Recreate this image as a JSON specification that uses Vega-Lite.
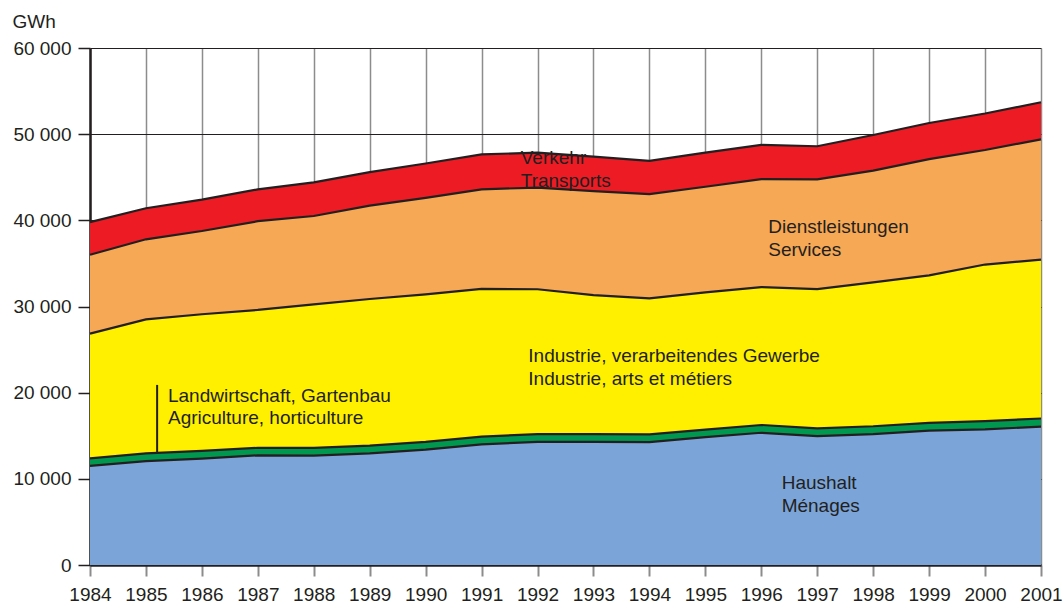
{
  "$schema": "https://vega.github.io/schema/vega-lite/v6.json",
  "width": 951,
  "height": 517,
  "autosize": {"type": "none"},
  "padding": {"left": 90, "top": 48, "right": 23, "bottom": 40},
  "background": "white",
  "config": {"view": {"stroke": null}, "font": "Liberation Sans"},
  "datasets": {
    "energy": [
      {"year": 1984, "sector": "Haushalt", "gwh": 11500}, {"year": 1984, "sector": "Landwirtschaft", "gwh": 880}, {"year": 1984, "sector": "Industrie", "gwh": 14470}, {"year": 1984, "sector": "Dienstleistungen", "gwh": 9150}, {"year": 1984, "sector": "Verkehr", "gwh": 3800},
      {"year": 1985, "sector": "Haushalt", "gwh": 12050}, {"year": 1985, "sector": "Landwirtschaft", "gwh": 910}, {"year": 1985, "sector": "Industrie", "gwh": 15540}, {"year": 1985, "sector": "Dienstleistungen", "gwh": 9300}, {"year": 1985, "sector": "Verkehr", "gwh": 3600},
      {"year": 1986, "sector": "Haushalt", "gwh": 12350}, {"year": 1986, "sector": "Landwirtschaft", "gwh": 900}, {"year": 1986, "sector": "Industrie", "gwh": 15850}, {"year": 1986, "sector": "Dienstleistungen", "gwh": 9660}, {"year": 1986, "sector": "Verkehr", "gwh": 3640},
      {"year": 1987, "sector": "Haushalt", "gwh": 12730}, {"year": 1987, "sector": "Landwirtschaft", "gwh": 870}, {"year": 1987, "sector": "Industrie", "gwh": 16000}, {"year": 1987, "sector": "Dienstleistungen", "gwh": 10300}, {"year": 1987, "sector": "Verkehr", "gwh": 3700},
      {"year": 1988, "sector": "Haushalt", "gwh": 12700}, {"year": 1988, "sector": "Landwirtschaft", "gwh": 900}, {"year": 1988, "sector": "Industrie", "gwh": 16650}, {"year": 1988, "sector": "Dienstleistungen", "gwh": 10250}, {"year": 1988, "sector": "Verkehr", "gwh": 3900},
      {"year": 1989, "sector": "Haushalt", "gwh": 12950}, {"year": 1989, "sector": "Landwirtschaft", "gwh": 900}, {"year": 1989, "sector": "Industrie", "gwh": 17020}, {"year": 1989, "sector": "Dienstleistungen", "gwh": 10830}, {"year": 1989, "sector": "Verkehr", "gwh": 3900},
      {"year": 1990, "sector": "Haushalt", "gwh": 13400}, {"year": 1990, "sector": "Landwirtschaft", "gwh": 900}, {"year": 1990, "sector": "Industrie", "gwh": 17100}, {"year": 1990, "sector": "Dienstleistungen", "gwh": 11200}, {"year": 1990, "sector": "Verkehr", "gwh": 4000},
      {"year": 1991, "sector": "Haushalt", "gwh": 14000}, {"year": 1991, "sector": "Landwirtschaft", "gwh": 900}, {"year": 1991, "sector": "Industrie", "gwh": 17150}, {"year": 1991, "sector": "Dienstleistungen", "gwh": 11550}, {"year": 1991, "sector": "Verkehr", "gwh": 4060},
      {"year": 1992, "sector": "Haushalt", "gwh": 14300}, {"year": 1992, "sector": "Landwirtschaft", "gwh": 900}, {"year": 1992, "sector": "Industrie", "gwh": 16800}, {"year": 1992, "sector": "Dienstleistungen", "gwh": 11800}, {"year": 1992, "sector": "Verkehr", "gwh": 4050},
      {"year": 1993, "sector": "Haushalt", "gwh": 14300}, {"year": 1993, "sector": "Landwirtschaft", "gwh": 900}, {"year": 1993, "sector": "Industrie", "gwh": 16130}, {"year": 1993, "sector": "Dienstleistungen", "gwh": 12070}, {"year": 1993, "sector": "Verkehr", "gwh": 4000},
      {"year": 1994, "sector": "Haushalt", "gwh": 14250}, {"year": 1994, "sector": "Landwirtschaft", "gwh": 900}, {"year": 1994, "sector": "Industrie", "gwh": 15800}, {"year": 1994, "sector": "Dienstleistungen", "gwh": 12100}, {"year": 1994, "sector": "Verkehr", "gwh": 3850},
      {"year": 1995, "sector": "Haushalt", "gwh": 14850}, {"year": 1995, "sector": "Landwirtschaft", "gwh": 850}, {"year": 1995, "sector": "Industrie", "gwh": 15950}, {"year": 1995, "sector": "Dienstleistungen", "gwh": 12250}, {"year": 1995, "sector": "Verkehr", "gwh": 3950},
      {"year": 1996, "sector": "Haushalt", "gwh": 15350}, {"year": 1996, "sector": "Landwirtschaft", "gwh": 900}, {"year": 1996, "sector": "Industrie", "gwh": 16000}, {"year": 1996, "sector": "Dienstleistungen", "gwh": 12530}, {"year": 1996, "sector": "Verkehr", "gwh": 3970},
      {"year": 1997, "sector": "Haushalt", "gwh": 14950}, {"year": 1997, "sector": "Landwirtschaft", "gwh": 900}, {"year": 1997, "sector": "Industrie", "gwh": 16170}, {"year": 1997, "sector": "Dienstleistungen", "gwh": 12740}, {"year": 1997, "sector": "Verkehr", "gwh": 3840},
      {"year": 1998, "sector": "Haushalt", "gwh": 15200}, {"year": 1998, "sector": "Landwirtschaft", "gwh": 900}, {"year": 1998, "sector": "Industrie", "gwh": 16700}, {"year": 1998, "sector": "Dienstleistungen", "gwh": 12960}, {"year": 1998, "sector": "Verkehr", "gwh": 4140},
      {"year": 1999, "sector": "Haushalt", "gwh": 15600}, {"year": 1999, "sector": "Landwirtschaft", "gwh": 900}, {"year": 1999, "sector": "Industrie", "gwh": 17120}, {"year": 1999, "sector": "Dienstleistungen", "gwh": 13480}, {"year": 1999, "sector": "Verkehr", "gwh": 4200},
      {"year": 2000, "sector": "Haushalt", "gwh": 15750}, {"year": 2000, "sector": "Landwirtschaft", "gwh": 950}, {"year": 2000, "sector": "Industrie", "gwh": 18170}, {"year": 2000, "sector": "Dienstleistungen", "gwh": 13290}, {"year": 2000, "sector": "Verkehr", "gwh": 4240},
      {"year": 2001, "sector": "Haushalt", "gwh": 16050}, {"year": 2001, "sector": "Landwirtschaft", "gwh": 950}, {"year": 2001, "sector": "Industrie", "gwh": 18450}, {"year": 2001, "sector": "Dienstleistungen", "gwh": 13950}, {"year": 2001, "sector": "Verkehr", "gwh": 4300}
    ],
    "labels": [
      {"year": 1991.70, "top": 46500, "label": "Verkehr\nTransports"},
      {"year": 1996.125, "top": 38490, "label": "Dienstleistungen\nServices"},
      {"year": 1991.835, "top": 23520, "label": "Industrie, verarbeitendes Gewerbe\nIndustrie, arts et métiers"},
      {"year": 1985.394, "top": 18950, "label": "Landwirtschaft, Gartenbau\nAgriculture, horticulture"},
      {"year": 1996.364, "top": 8785, "label": "Haushalt\nMénages"}
    ],
    "pointer": [
      {"year": 1985.2, "top": 20900, "base": 13000}
    ]
  },
  "encoding": {
    "x": {
      "field": "year", "type": "quantitative",
      "scale": {"domain": [1984, 2001], "nice": false, "zero": false},
      "axis": {
        "title": null,
        "values": [1984, 1985, 1986, 1987, 1988, 1989, 1990, 1991, 1992, 1993, 1994, 1995, 1996, 1997, 1998, 1999, 2000, 2001],
        "format": "d", "labelFlush": false, "labelOverlap": false,
        "labelFontSize": 19, "labelColor": "#231f20", "labelPadding": 9,
        "tickColor": "#8c8c8c", "tickSize": 11, "tickWidth": 2,
        "domainColor": "#231f20", "domainWidth": 2.5,
        "grid": true, "gridColor": "#8c8c8c", "gridWidth": 1.5
      }
    },
    "y": {
      "field": "top", "type": "quantitative",
      "scale": {"domain": [0, 60000], "nice": false},
      "axis": {
        "title": "GWh", "titleAngle": 0, "titleX": -78, "titleY": -21, "titleAlign": "left", "titleBaseline": "alphabetic",
        "titleFontWeight": "normal", "titleFontSize": 19, "titleColor": "#231f20",
        "values": [0, 10000, 20000, 30000, 40000, 50000, 60000],
        "labelExpr": "replace(format(datum.value, ','), ',', ' ')",
        "labelFontSize": 19, "labelColor": "#231f20", "labelPadding": 7,
        "tickColor": "#231f20", "tickSize": 12, "tickWidth": 1.5,
        "domainColor": "#231f20", "domainWidth": 2.5,
        "grid": true, "gridColor": "#231f20", "gridWidth": 1.2
      }
    }
  },
  "layer": [
    {
      "data": {"name": "energy"},
      "transform": [
        {"calculate": "indexof(['Haushalt','Landwirtschaft','Industrie','Dienstleistungen','Verkehr'], datum.sector)", "as": "ord"},
        {"stack": "gwh", "groupby": ["year"], "sort": [{"field": "ord", "order": "ascending"}], "as": ["base", "top"]}
      ],
      "mark": {"type": "area"},
      "encoding": {
        "y2": {"field": "base"},
        "color": {
          "field": "sector", "type": "nominal", "legend": null,
          "scale": {
            "domain": ["Haushalt", "Landwirtschaft", "Industrie", "Dienstleistungen", "Verkehr"],
            "range": ["#7ba5d8", "#00984f", "#fff000", "#f6a854", "#ed1c24"]
          }
        }
      }
    },
    {
      "data": {"name": "energy"},
      "transform": [
        {"calculate": "indexof(['Haushalt','Landwirtschaft','Industrie','Dienstleistungen','Verkehr'], datum.sector)", "as": "ord"},
        {"stack": "gwh", "groupby": ["year"], "sort": [{"field": "ord", "order": "ascending"}], "as": ["base", "top"]}
      ],
      "mark": {"type": "line", "color": "#231f20", "strokeWidth": 2.2},
      "encoding": {
        "detail": {"field": "sector", "type": "nominal"}
      }
    },
    {
      "data": {"name": "pointer"},
      "mark": {"type": "rule", "color": "#231f20", "strokeWidth": 2},
      "encoding": {"y2": {"field": "base"}}
    },
    {
      "data": {"name": "labels"},
      "mark": {"type": "text", "align": "left", "baseline": "alphabetic", "lineBreak": "\n", "lineHeight": 22.5, "fontSize": 19, "color": "#231f20"},
      "encoding": {"text": {"field": "label"}}
    },
    {
      "data": {"values": [{}]},
      "mark": {"type": "rule", "color": "#231f20", "strokeWidth": 2.5},
      "encoding": {
        "x": {"datum": 2001},
        "y": {"datum": 0},
        "y2": {"datum": 60000}
      }
    }
  ]
}
